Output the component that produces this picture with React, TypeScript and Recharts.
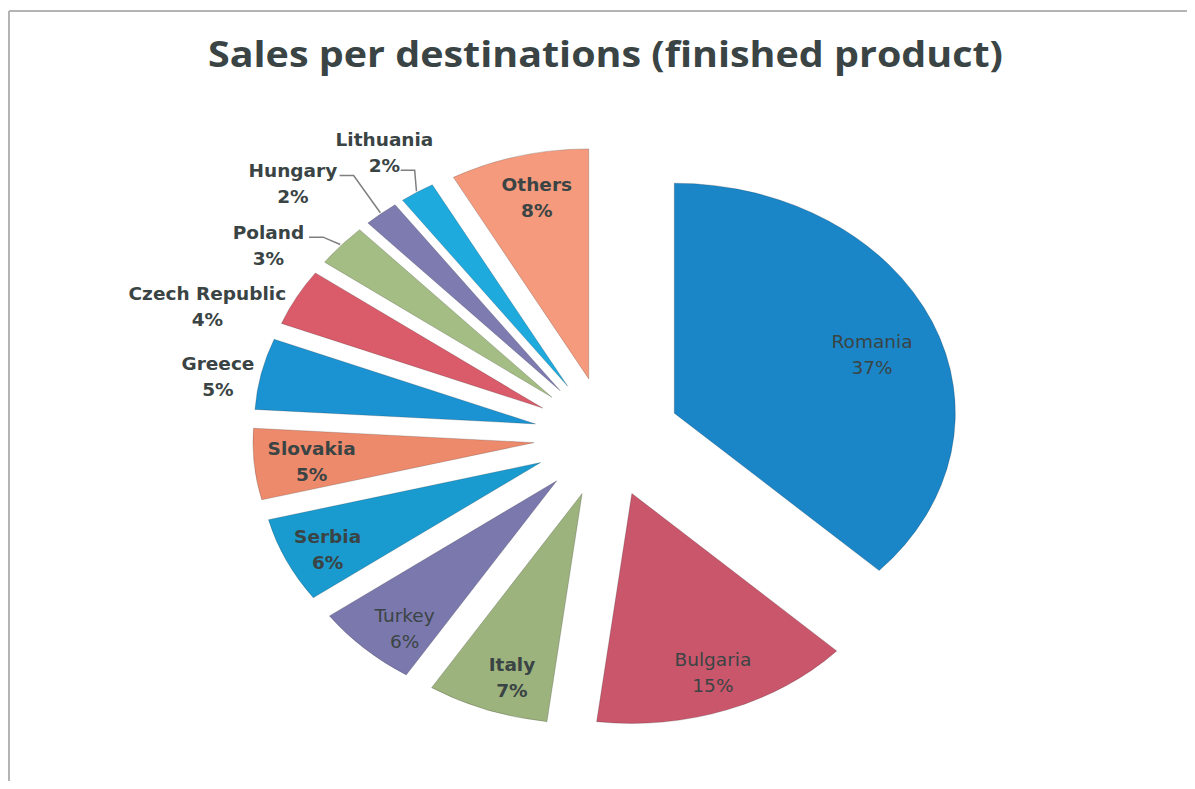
import React from 'react'
import { Cell, Pie, PieChart, Sector } from 'recharts'

const countries = ['Romania', 'Bulgaria', 'Italy', 'Turkey', 'Serbia', 'Slovakia', 'Greece', 'Czech Republic', 'Poland', 'Hungary', 'Lithuania', 'Others']
const shares = [37, 15, 7, 6, 6, 5, 5, 4, 3, 2, 2, 8]

const colors = ['#1a86c8', '#c9566b', '#9db37e', '#7b78ad', '#1a9bd0', '#ee8a6c', '#1b92d1', '#da5b69', '#a4bd84', '#7d7bb0', '#1faade', '#f59a7c']
// label placement: distance from the pie centre, turn off the slice's mid angle, leader row
const labelRadius = [232, 251, 253, 253, 255, 243, 324, 352, 337, 361, 338, 246]
const labelTurn = [-2.6, 0.4, 1.9, 2.3, 1.1, 0.5, 1.9, 7.1, 6.7, 5.8, 0.2, -0.9]
const labelBold = [false, false, true, false, true, true, true, true, true, true, true, true]
const leaderRow = [-1, -1, -1, -1, -1, -1, -1, -1, 0, 0, 1, -1]

const rows = countries.map((name, i) => ({ name, value: shares[i] }))

const SX = 1.222 // the picture is stretched sideways
const EXPLODE = 60
const RAD = Math.PI / 180
const FONT = 18.5
const TEXT = '#3a4444'

const ExplodedSector = (props: any) => {
  const { cx, cy, midAngle, outerRadius, startAngle, endAngle, fill } = props
  const ox = EXPLODE * Math.cos(-midAngle * RAD)
  const oy = EXPLODE * Math.sin(-midAngle * RAD)
  return (
    <g transform={ `translate(${ cx } ${ cy }) scale(${ SX } 1) translate(${ -cx + ox } ${ -cy + oy })` }>
      <Sector
        cx={ cx }
        cy={ cy }
        innerRadius={ 0 }
        outerRadius={ outerRadius }
        startAngle={ startAngle }
        endAngle={ endAngle }
        fill={ fill }
        stroke="rgba(0,0,0,0.18)"
        strokeWidth={ 1 }
        vectorEffect="non-scaling-stroke"
      />
    </g>
  )
}

const renderLabel = (props: any) => {
  const { cx, cy, midAngle, outerRadius, index, name, value } = props
  const a = (midAngle + labelTurn[index]) * RAD
  const r = labelRadius[index]
  const x = cx + SX * r * Math.cos(-a)
  const y = cy + r * Math.sin(-a)
  const weight = labelBold[index] ? 'bold' : 'normal'
  const pct = `${ value }%`
  let leader = null
  if (leaderRow[index] >= 0) {
    const txt = leaderRow[index] === 0 ? name : pct
    const rowY = y + (leaderRow[index] === 0 ? -13 : 13) + 5
    const sx = x + (txt.length * 0.66 * FONT) / 2 + 4
    const ex = cx + SX * (EXPLODE + outerRadius + 1) * Math.cos(-midAngle * RAD)
    const ey = cy + (EXPLODE + outerRadius + 1) * Math.sin(-midAngle * RAD)
    leader = (
      <polyline
        points={ `${ sx },${ rowY } ${ sx + 14 },${ rowY } ${ ex },${ ey }` }
        fill="none"
        stroke="#7f7f7f"
        strokeWidth={ 1.5 }
      />
    )
  }
  return (
    <g>
      { leader }
      <text x={ x } y={ y - 13 } textAnchor="middle" dominantBaseline="central" fill={ TEXT }
            fontFamily="DejaVu Sans" fontSize={ FONT } fontWeight={ weight }>{ name }</text>
      <text x={ x } y={ y + 13 } textAnchor="middle" dominantBaseline="central" fill={ TEXT }
            fontFamily="DejaVu Sans" fontSize={ FONT } fontWeight={ weight }>{ pct }</text>
    </g>
  )
}

const App = () => {
  return (
    <div style={ { position: 'relative', width: 1195, height: 789, margin: -8, background: '#fff', overflow: 'hidden' } }>
      <svg width={ 1195 } height={ 789 } style={ { position: 'absolute', left: 0, top: 0 } }>
        <line x1={ 9 } y1={ 11 } x2={ 1195 } y2={ 11 } stroke="#b4b4b4" strokeWidth={ 2 }/>
        <line x1={ 9 } y1={ 11 } x2={ 9 } y2={ 789 } stroke="#b4b4b4" strokeWidth={ 2 }/>
        <text x={ 208 } y={ 67 } textLength={ 795 } lengthAdjust="spacingAndGlyphs" fill="#3a4444"
              fontFamily="Open Sans" fontWeight="bold" fontSize={ 35 }>
          Sales per destinations (finished product)
        </text>
      </svg>
      <div style={ { position: 'absolute', left: 0, top: 0 } }>
        <PieChart width={ 1195 } height={ 789 } margin={ { top: 0, right: 0, bottom: 0, left: 0 } }>
          <Pie
            data={ rows }
            dataKey="value"
            nameKey="name"
            cx={ 607 }
            cy={ 437 }
            outerRadius={ 230 }
            startAngle={ 90 }
            endAngle={ -270 }
            stroke="none"
            shape={ ExplodedSector }
            label={ renderLabel }
            labelLine={ false }
            isAnimationActive={ false }
          >
            { rows.map((r, i) => <Cell key={ r.name } fill={ colors[i] }/>) }
          </Pie>
        </PieChart>
      </div>
    </div>
  )
}

export default App
